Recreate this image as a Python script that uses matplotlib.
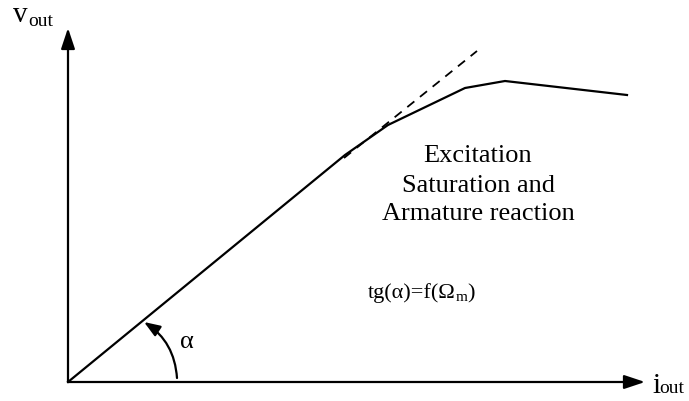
import matplotlib
matplotlib.use("Agg")
import matplotlib.pyplot as plt
from matplotlib.patches import FancyArrowPatch

plt.rcParams['font.family'] = ['Liberation Serif', 'DejaVu Serif']

# characteristic v_out(i_out): linear part, then saturation and armature reaction
i_curve = [0, 277, 320, 397, 437, 559]
v_curve = [0, 227, 257, 294, 301, 287]

# tangent of the linear part (no saturation)
i_tangent = [276, 409]
v_tangent = [224, 331]

fig = plt.figure(figsize=(6.89, 4.01), dpi=100)
ax = fig.add_axes([0, 0, 1, 1])
ax.set_xlim(-68, 621)
ax.set_ylim(-19, 382)
ax.axis('off')

ax.plot(i_curve, v_curve, color='black', lw=1.6, solid_joinstyle='round')
ax.plot(i_tangent, v_tangent, color='black', lw=1.3, ls=(0, (5, 4)))

# axes with arrows
arrow_kw = dict(arrowstyle='-|>,head_length=0.9,head_width=0.3',
                mutation_scale=14, color='black', lw=1.6,
                shrinkA=0, shrinkB=0)
ax.add_patch(FancyArrowPatch((0, 0), (0, 354), **arrow_kw))
ax.add_patch(FancyArrowPatch((0, 0), (577, 0), **arrow_kw))

# angle alpha
ax.add_patch(FancyArrowPatch((109, 4), (76, 60),
                             connectionstyle='arc3,rad=0.25',
                             arrowstyle='-|>,head_length=0.8,head_width=0.3',
                             mutation_scale=12, color='black', lw=1.6,
                             shrinkA=0, shrinkB=0))
ax.text(112, 40, 'α', fontsize=19, ha='left', va='center')

# axis labels
ax.text(-55, 360, 'v', fontsize=21, ha='left', va='baseline')
ax.text(-40, 356, 'out', fontsize=14, ha='left', va='baseline')
ax.text(584, -11, 'i', fontsize=21, ha='left', va='baseline')
ax.text(591, -11, 'out', fontsize=14, ha='left', va='baseline')

# annotations
ax.text(410, 226, 'Excitation', fontsize=19, ha='center', va='center')
ax.text(410, 196, 'Saturation and', fontsize=19, ha='center', va='center')
ax.text(410, 168, 'Armature reaction', fontsize=19, ha='center', va='center')
ax.text(300, 84, 'tg(α)=f(Ω', fontsize=16, ha='left', va='baseline')
t = ax.text(300, 84, 'tg(α)=f(Ω', fontsize=16, alpha=0)
fig.canvas.draw()
bb = t.get_window_extent().transformed(ax.transData.inverted())
ax.text(bb.x1, 81, 'm', fontsize=11, ha='left', va='baseline')
ax.text(bb.x1 + 11, 84, ')', fontsize=16, ha='left', va='baseline')

fig.savefig('out.png', dpi=100)
